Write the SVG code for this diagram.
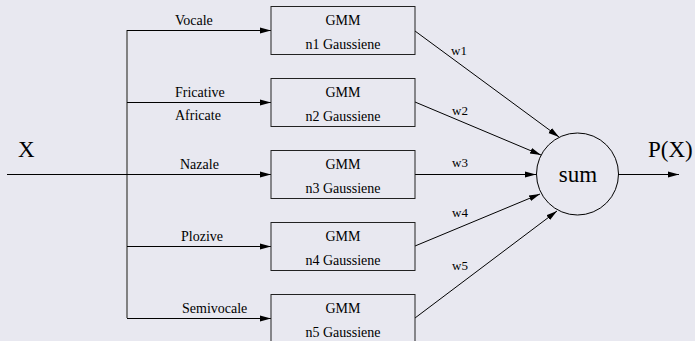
<svg xmlns="http://www.w3.org/2000/svg" width="695" height="341" viewBox="0 0 695 341" font-family="'Liberation Serif', 'Times New Roman', serif">
<defs>
<marker id="ah" markerUnits="userSpaceOnUse" markerWidth="12" markerHeight="8" refX="11" refY="4" orient="auto">
<path d="M0,1 L11,4 L0,7 Z" fill="#000"/>
</marker>
<style>
text{font-family:'Liberation Serif','Times New Roman',serif;fill:#000}
.s{font-size:14px}
.w{font-size:13px}
.big{font-size:23px}
.box{fill:none;stroke:#222;stroke-width:1}
.arr{stroke:#000;stroke-width:1;fill:none;marker-end:url(#ah)}
</style>
</defs>
<rect width="695" height="341" fill="#e8e8f0"/>
<g id="connectors">
<line x1="127" y1="30" x2="127" y2="318" stroke="#666" stroke-width="1.6"/>
<line class="arr" x1="127" y1="30.5" x2="271" y2="30.5"/>
<line class="arr" x1="127" y1="102.5" x2="271" y2="102.5"/>
<line class="arr" x1="7" y1="174.5" x2="271" y2="174.5"/>
<line class="arr" x1="127" y1="246.5" x2="271" y2="246.5"/>
<line class="arr" x1="127" y1="318.5" x2="271" y2="318.5"/>
<line class="arr" x1="415" y1="31" x2="559" y2="137"/>
<line class="arr" x1="415" y1="102" x2="541" y2="155"/>
<line class="arr" x1="415" y1="174.5" x2="536" y2="174.5"/>
<line class="arr" x1="415" y1="246" x2="540" y2="194"/>
<line class="arr" x1="415" y1="318" x2="557" y2="211"/>
<line class="arr" x1="618" y1="174.5" x2="679" y2="174.5"/>
<text class="s" x="175" y="25">Vocale</text>
<text class="s" x="175" y="97">Fricative</text>
<text class="s" x="175" y="120">Africate</text>
<text class="s" x="180" y="169">Nazale</text>
<text class="s" x="181" y="241">Plozive</text>
<text class="s" x="182" y="313">Semivocale</text>
<text class="w" x="451" y="55">w1</text>
<text class="w" x="452" y="115">w2</text>
<text class="w" x="452" y="167">w3</text>
<text class="w" x="452" y="217">w4</text>
<text class="w" x="452" y="270">w5</text>
</g>
<g id="input"><text class="big" x="18" y="157">X</text></g>
<g id="output"><text class="big" x="648" y="157">P(X)</text></g>
<g id="gmm1"><rect class="box" x="271" y="6.5" width="144" height="48"/><text class="s" x="343" y="25" text-anchor="middle">GMM</text><text class="s" x="343" y="49" text-anchor="middle">n1 Gaussiene</text></g>
<g id="gmm2"><rect class="box" x="271" y="78.5" width="144" height="48"/><text class="s" x="343" y="97" text-anchor="middle">GMM</text><text class="s" x="343" y="121" text-anchor="middle">n2 Gaussiene</text></g>
<g id="gmm3"><rect class="box" x="271" y="150.5" width="144" height="48"/><text class="s" x="343" y="169" text-anchor="middle">GMM</text><text class="s" x="343" y="193" text-anchor="middle">n3 Gaussiene</text></g>
<g id="gmm4"><rect class="box" x="271" y="222.5" width="144" height="48"/><text class="s" x="343" y="241" text-anchor="middle">GMM</text><text class="s" x="343" y="265" text-anchor="middle">n4 Gaussiene</text></g>
<g id="gmm5"><rect class="box" x="271" y="294.5" width="144" height="48"/><text class="s" x="343" y="313" text-anchor="middle">GMM</text><text class="s" x="343" y="337" text-anchor="middle">n5 Gaussiene</text></g>
<g id="sum"><circle cx="577.5" cy="174" r="41" fill="none" stroke="#000" stroke-width="1"/><text class="big" x="578" y="182" text-anchor="middle">sum</text></g>
</svg>
